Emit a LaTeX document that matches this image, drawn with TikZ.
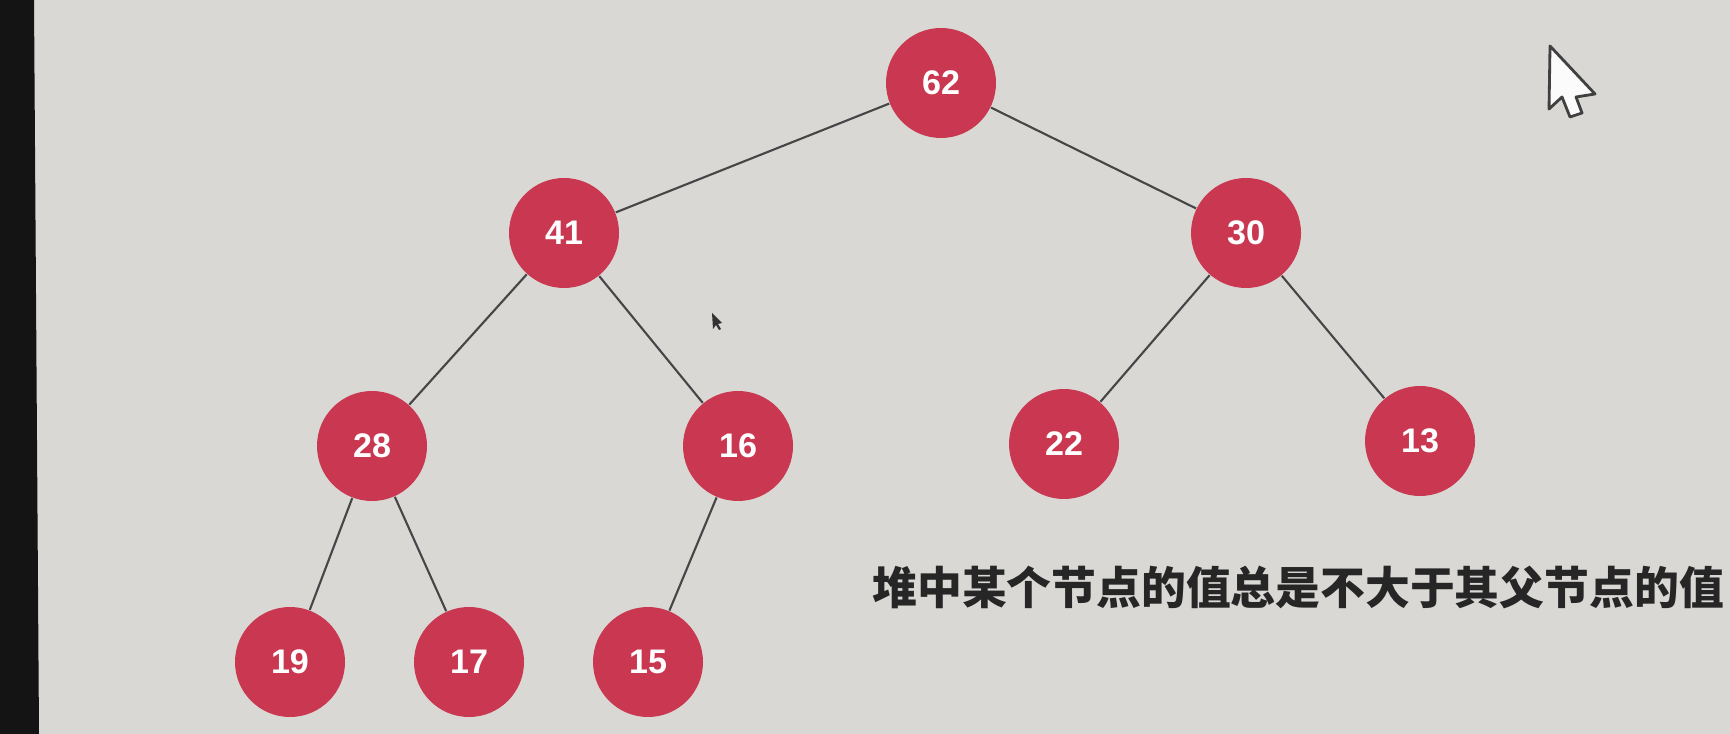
\documentclass[tikz,border=0pt]{standalone}
\usepackage{fontspec}
\setmainfont{Liberation Sans}
\newfontfamily\cjk{Noto Sans CJK SC}
\usepackage{tikz}
\usetikzlibrary{positioning}
\usepackage{xcolor}
\definecolor{heapred}{RGB}{201,56,80}
\definecolor{screenbg}{RGB}{218,216,212}
\definecolor{edgegray}{RGB}{70,70,72}

\begin{document}
\begin{tikzpicture}[
    heapnode/.style={circle, fill=heapred, minimum size=1.1cm, inner sep=0pt,
        text=white, font=\fontsize{9.7}{12}\selectfont\bfseries},
    heapedge/.style={edgegray, line width=0.6pt}
]
    % 背景
    \useasboundingbox (0,0) rectangle (17.3,-7.34);
    \fill[screenbg] (0,0) rectangle (17.3,-7.34);
    \fill[black!92] (0,0) -- (0.34,0) -- (0.39,-7.34) -- (0,-7.34) -- cycle;

    % 节点
    \node[heapnode] (n62) at (9.41,-0.83) {62};
    \node[heapnode] (n41) at (5.64,-2.33) {41};
    \node[heapnode] (n30) at (12.46,-2.33) {30};
    \node[heapnode] (n28) at (3.72,-4.46) {28};
    \node[heapnode] (n16) at (7.38,-4.46) {16};
    \node[heapnode] (n22) at (10.64,-4.44) {22};
    \node[heapnode] (n13) at (14.20,-4.41) {13};
    \node[heapnode] (n19) at (2.90,-6.62) {19};
    \node[heapnode] (n17) at (4.69,-6.62) {17};
    \node[heapnode] (n15) at (6.48,-6.62) {15};

    % 连线
    \foreach \a/\b in {n62/n41, n62/n30, n41/n28, n41/n16, n30/n22, n30/n13,
                       n28/n19, n28/n17, n16/n15}
        \draw[heapedge] (\a) -- (\b);

    % 说明
    \node[anchor=west, font=\cjk\bfseries\fontsize{12.75}{15}\selectfont, text=black!85]
        (note) at (8.60,-5.87) {堆中某个节点的值总是不大于其父节点的值};

    % 鼠标指针
    \draw[black!75, line width=0.8pt, fill=white!90!screenbg, line join=round]
        (15.50,-0.46) -- (15.49,-1.09) -- (15.62,-0.97) -- (15.70,-1.17)
        -- (15.82,-1.13) -- (15.76,-0.97) -- (15.95,-0.94) -- cycle;
    \fill[black!80] (7.12,-3.13) -- (7.13,-3.29) -- (7.16,-3.25) -- (7.19,-3.30)
        -- (7.21,-3.29) -- (7.18,-3.24) -- (7.22,-3.23) -- cycle;
\end{tikzpicture}
\end{document}
